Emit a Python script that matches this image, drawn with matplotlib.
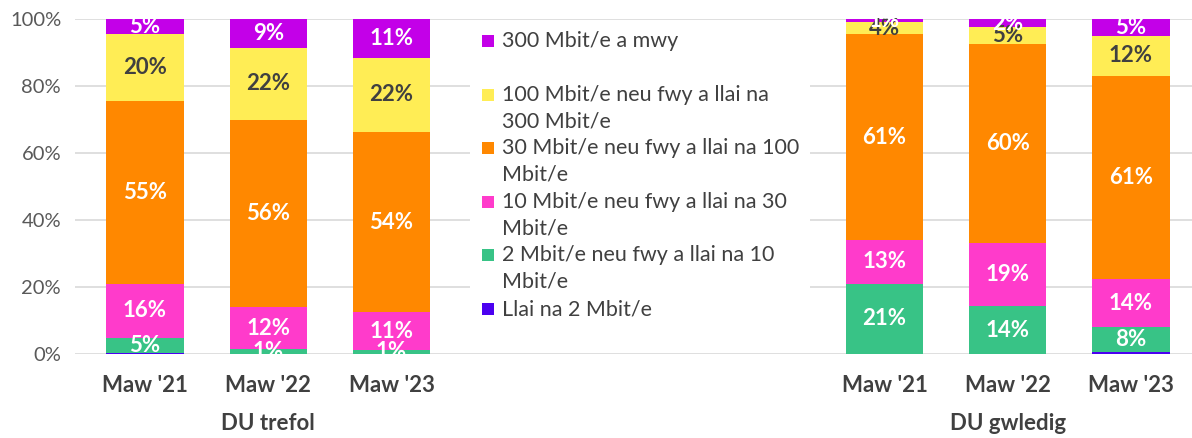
import matplotlib.pyplot as plt
from matplotlib.patches import Rectangle

plt.rcParams['font.family'] = ['Lato', 'DejaVu Sans']

# categories / series
periods = ["Maw '21", "Maw '22", "Maw '23"]
groups = ["DU trefol", "DU gwledig"]
series = [
    "Llai na 2 Mbit/e",
    "2 Mbit/e neu fwy a llai na 10\nMbit/e",
    "10 Mbit/e neu fwy a llai na 30\nMbit/e",
    "30 Mbit/e neu fwy a llai na 100\nMbit/e",
    "100 Mbit/e neu fwy a llai na\n300 Mbit/e",
    "300 Mbit/e a mwy",
]
colors = ["#4B00F0", "#38C386", "#FF3BCB", "#FF8800", "#FFED55", "#C300E8"]
label_colors = ["white", "white", "white", "white", "#404040", "white"]

# shares (%) per bar: urban 21/22/23, rural 21/22/23
lt2 = [0.4, 0.1, 0.1, 0.0, 0.0, 0.5]
m2_10 = [4.5, 1.4, 1.2, 21.0, 14.2, 7.6]
m10_30 = [16.0, 12.4, 11.1, 13.0, 18.8, 14.2]
m30_100 = [54.6, 56.0, 54.0, 61.4, 59.5, 60.7]
m100_300 = [19.9, 21.4, 22.1, 3.7, 5.1, 12.0]
m300 = [4.8, 8.7, 11.5, 0.9, 2.4, 5.0]
values = [lt2, m2_10, m10_30, m30_100, m100_300, m300]

# shown labels
labels = [
    None,
    ["5%", "1%", "1%", "21%", "14%", "8%"],
    ["16%", "12%", "11%", "13%", "19%", "14%"],
    ["55%", "56%", "54%", "61%", "60%", "61%"],
    ["20%", "22%", "22%", "4%", "5%", "12%"],
    ["5%", "9%", "11%", "1%", "2%", "5%"],
]

xpos = [0, 1, 2, 6, 7, 8]

W, H = 1192, 438
fig = plt.figure(figsize=(W / 100, H / 100), dpi=100)
ax = fig.add_axes([75 / W, 1 - 354 / H, 1 - 75 / W, 335 / H])

bottom = [0.0] * 6
for vals, col, lab, lc in zip(values, colors, labels, label_colors):
    ax.bar(xpos, vals, width=0.625, bottom=bottom, color=col, zorder=2)
    if lab is not None:
        for x, b, v, t in zip(xpos, bottom, vals, lab):
            ax.text(x, b + v / 2, t, ha='center', va='center', color=lc,
                    fontsize=16, fontweight='bold', zorder=3)
    bottom = [b + v for b, v in zip(bottom, vals)]

ax.set_xlim(-0.568, 8.495)
ax.set_ylim(0, 100)
ax.set_yticks(range(0, 101, 20))
ax.set_yticklabels([f"{v}%" for v in range(0, 101, 20)])
ax.yaxis.grid(True, color='#D9D9D9', linewidth=1.2, zorder=0)
ax.set_axisbelow(True)
for s in ax.spines.values():
    s.set_visible(False)
ax.tick_params(axis='y', length=0, pad=10, labelsize=14.5, labelcolor='#595959')
ax.set_xticks(xpos)
ax.set_xticklabels(periods * 2)
ax.tick_params(axis='x', length=0, pad=15, labelsize=16, labelcolor='#404040')
for t in ax.get_xticklabels():
    t.set_fontweight('bold')

# group labels
for g, x in zip(groups, [1, 7]):
    ax.annotate(g, xy=(x, 0), xycoords=('data', 'axes fraction'),
                xytext=(0, -69), textcoords='offset pixels',
                ha='center', va='center', fontsize=16, fontweight='bold',
                color='#404040')

# legend
fig.patches.append(Rectangle((470 / W, 1 - 325 / H), 340 / W, 300 / H,
                             transform=fig.transFigure, facecolor='white',
                             edgecolor='none', zorder=1))
for i, (name, col) in enumerate(zip(series[::-1], colors[::-1])):
    y0 = 41 + i * 53.6
    fig.patches.append(Rectangle((482 / W, 1 - (y0 + 6) / H), 12 / W, 12 / H,
                                 transform=fig.transFigure, facecolor=col,
                                 edgecolor='none', zorder=2))
    for j, line in enumerate(name.split('\n')):
        fig.text(502 / W, 1 - (y0 + j * 26.5) / H, line, ha='left',
                 va='center', fontsize=15.5, color='#404040', zorder=3)

fig.savefig('out.png', dpi=100)
